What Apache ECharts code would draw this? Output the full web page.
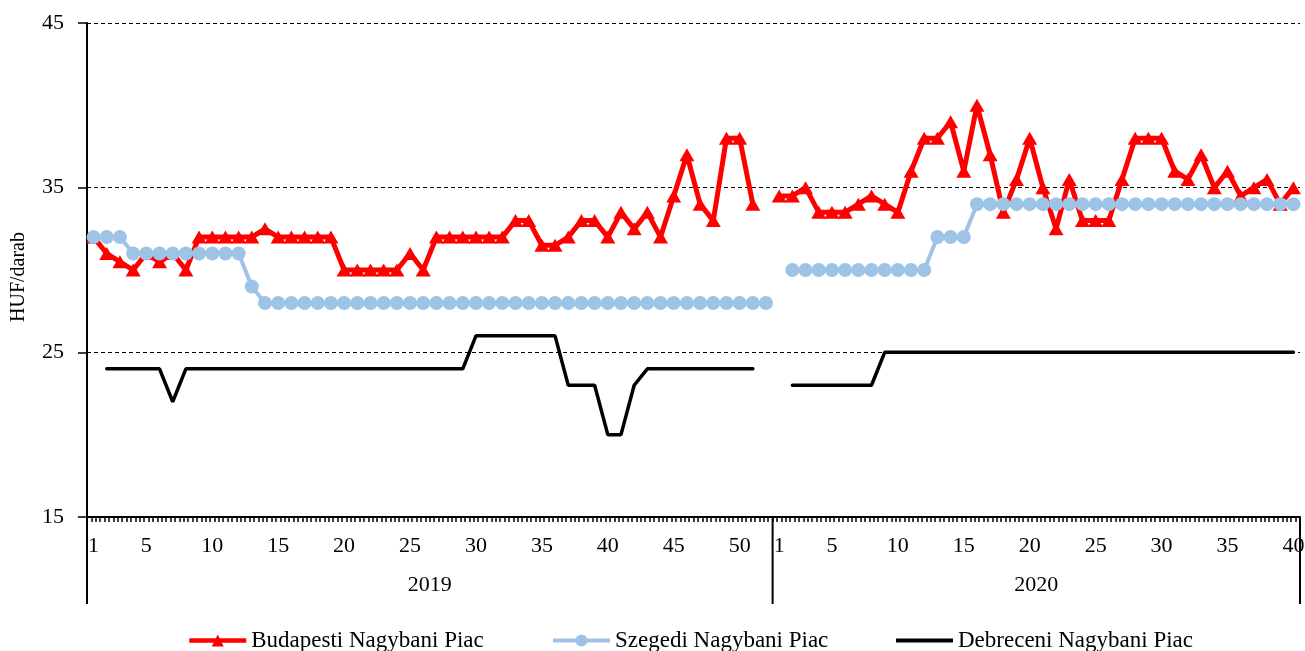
<!DOCTYPE html>
<html>
<head>
<meta charset="utf-8">
<title>Tojás ára</title>
<script src="https://cdn.jsdelivr.net/npm/echarts@6/dist/echarts.min.js"></script>
<style>
  html, body { margin: 0; padding: 0; background: #fff; }
  #main { width: 1305px; height: 651px; }
</style>
</head>
<body>
<div id="main"></div>
<script>
// hetek évenként
const years = ['2019', '2020'];
const weeksPerYear = [52, 40];
const labelWeeks = [1, 5, 10, 15, 20, 25, 30, 35, 40, 45, 50];

// HUF/darab
const budapest2019 = [32, 31, 30.5, 30, 31, 30.5, 31, 30, 32, 32, 32, 32, 32, 32.5, 32, 32, 32, 32, 32, 30,
  30, 30, 30, 30, 31, 30, 32, 32, 32, 32, 32, 32, 33, 33, 31.5, 31.5, 32, 33, 33, 32,
  33.5, 32.5, 33.5, 32, 34.5, 37, 34, 33, 38, 38, 34, null];
const budapest2020 = [34.5, 34.5, 35, 33.5, 33.5, 33.5, 34, 34.5, 34, 33.5, 36, 38, 38, 39, 36, 40, 37, 33.5, 35.5, 38,
  35, 32.5, 35.5, 33, 33, 33, 35.5, 38, 38, 38, 36, 35.5, 37, 35, 36, 34.5, 35, 35.5, 34, 35];

const szeged2019 = [32, 32, 32, 31, 31, 31, 31, 31, 31, 31, 31, 31, 29, 28, 28, 28, 28, 28, 28, 28,
  28, 28, 28, 28, 28, 28, 28, 28, 28, 28, 28, 28, 28, 28, 28, 28, 28, 28, 28, 28,
  28, 28, 28, 28, 28, 28, 28, 28, 28, 28, 28, 28];
const szeged2020 = [null, 30, 30, 30, 30, 30, 30, 30, 30, 30, 30, 30, 32, 32, 32, 34, 34, 34, 34, 34,
  34, 34, 34, 34, 34, 34, 34, 34, 34, 34, 34, 34, 34, 34, 34, 34, 34, 34, 34, 34];

const debrecen2019 = [null, 24, 24, 24, 24, 24, 22, 24, 24, 24, 24, 24, 24, 24, 24, 24, 24, 24, 24, 24,
  24, 24, 24, 24, 24, 24, 24, 24, 24, 26, 26, 26, 26, 26, 26, 26, 23, 23, 23, 20,
  20, 23, 24, 24, 24, 24, 24, 24, 24, 24, 24, null];
const debrecen2020 = [null, 23, 23, 23, 23, 23, 23, 23, 25, 25, 25, 25, 25, 25, 25, 25, 25, 25, 25, 25,
  25, 25, 25, 25, 25, 25, 25, 25, 25, 25, 25, 25, 25, 25, 25, 25, 25, 25, 25, 25];

const yTicks = [15, 25, 35, 45];

let categories = [];
years.forEach((y, i) => {
  for (let w = 1; w <= weeksPerYear[i]; w++) categories.push(y + '-' + w);
});
// sűrű osztásjelek: 3 / hét
let tickSlots = [];
for (let i = 0; i < categories.length * 3; i++) tickSlots.push(String(i));

const font = "'Liberation Serif', 'Times New Roman', serif";
const names = ['Budapesti Nagybani Piac', 'Szegedi Nagybani Piac', 'Debreceni Nagybani Piac'];

function legendAt(left, item) {
  return {
    left: left,
    top: 624,
    itemWidth: 57,
    itemHeight: 15,
    textStyle: { fontFamily: font, fontSize: 23, color: '#000' },
    data: [item]
  };
}

let myChart = echarts.init(document.getElementById('main'));
let option = {
  animation: false,
  backgroundColor: '#fff',
  textStyle: { fontFamily: font, color: '#000' },
  grid: {
    left: 87,
    right: 5,
    top: 23,
    bottom: 134,
    containLabel: false,
    outerBoundsMode: 'none'
  },
  legend: [
    legendAt(182, { name: names[0], lineStyle: { width: 4.5 } }),
    legendAt(546, { name: names[1], lineStyle: { width: 4 } }),
    legendAt(891, { name: names[2], icon: 'path://M0,0H57V4H0Z' })
  ],
  xAxis: [
    {
      type: 'category',
      data: categories,
      boundaryGap: true,
      axisLine: { lineStyle: { color: '#000', width: 2 } },
      axisTick: { show: false },
      axisLabel: {
        interval: (index, value) => labelWeeks.includes(+value.split('-')[1]),
        formatter: v => v.split('-')[1],
        fontFamily: font,
        fontSize: 22,
        color: '#000',
        margin: 18
      },
      splitLine: { show: false },
      z: 3
    },
    {
      type: 'category',
      data: tickSlots,
      position: 'bottom',
      boundaryGap: true,
      axisLine: { show: false },
      axisTick: { show: true, interval: 0, length: 5, lineStyle: { color: '#000', width: 1.5 } },
      axisLabel: { show: false },
      splitLine: { show: false }
    }
  ],
  yAxis: {
    type: 'value',
    min: yTicks[0],
    max: yTicks[yTicks.length - 1],
    interval: 10,
    name: 'HUF/darab',
    nameLocation: 'middle',
    nameGap: 58,
    nameTextStyle: { fontFamily: font, fontSize: 20, color: '#000', padding: [0, 14, 0, 0] },
    axisLine: { show: true, lineStyle: { color: '#000', width: 2 } },
    axisTick: { show: true, length: 9, lineStyle: { color: '#000', width: 1.5 } },
    axisLabel: { fontFamily: font, fontSize: 22, color: '#000', margin: 23 },
    splitLine: { lineStyle: { color: '#000', type: [4, 3], width: 1 } }
  },
  series: [
    {
      name: names[0],
      type: 'line',
      data: budapest2019.concat(budapest2020),
      symbol: 'triangle',
      symbolSize: [15, 13],
      showAllSymbol: true,
      connectNulls: false,
      itemStyle: { color: '#FF0000' },
      lineStyle: { color: '#FF0000', width: 5 }
    },
    {
      name: names[1],
      type: 'line',
      data: szeged2019.concat(szeged2020),
      symbol: 'circle',
      symbolSize: 14,
      showAllSymbol: true,
      connectNulls: false,
      itemStyle: { color: '#9DC3E6' },
      lineStyle: { color: '#9DC3E6', width: 4 }
    },
    {
      name: names[2],
      type: 'line',
      data: debrecen2019.concat(debrecen2020),
      symbol: 'none',
      connectNulls: false,
      itemStyle: { color: '#000' },
      lineStyle: { color: '#000', width: 3.5, cap: 'round' }
    }
  ]
};
myChart.setOption(option);

// évek elválasztása és feliratai az x tengely alatt
const p0 = myChart.convertToPixel({ xAxisIndex: 0 }, 0);
const p1 = myChart.convertToPixel({ xAxisIndex: 0 }, 1);
const yBottom = myChart.convertToPixel({ yAxisIndex: 0 }, yTicks[0]);
const band = p1 - p0;
let edges = [p0 - band / 2];
let acc = 0;
weeksPerYear.forEach(n => { acc += n; edges.push(p0 + (acc - 0.5) * band); });

let graphic = [];
edges.forEach(x => {
  graphic.push({
    type: 'line',
    shape: { x1: x, y1: yBottom, x2: x, y2: yBottom + 87 },
    style: { stroke: '#000', lineWidth: 2 }
  });
});
years.forEach((y, i) => {
  graphic.push({
    type: 'text',
    x: (edges[i] + edges[i + 1]) / 2,
    y: yBottom + 68,
    style: { text: y, font: '22px ' + font, fill: '#000', textAlign: 'center', textVerticalAlign: 'middle' }
  });
});
myChart.setOption({ graphic: graphic });
</script>
</body>
</html>
